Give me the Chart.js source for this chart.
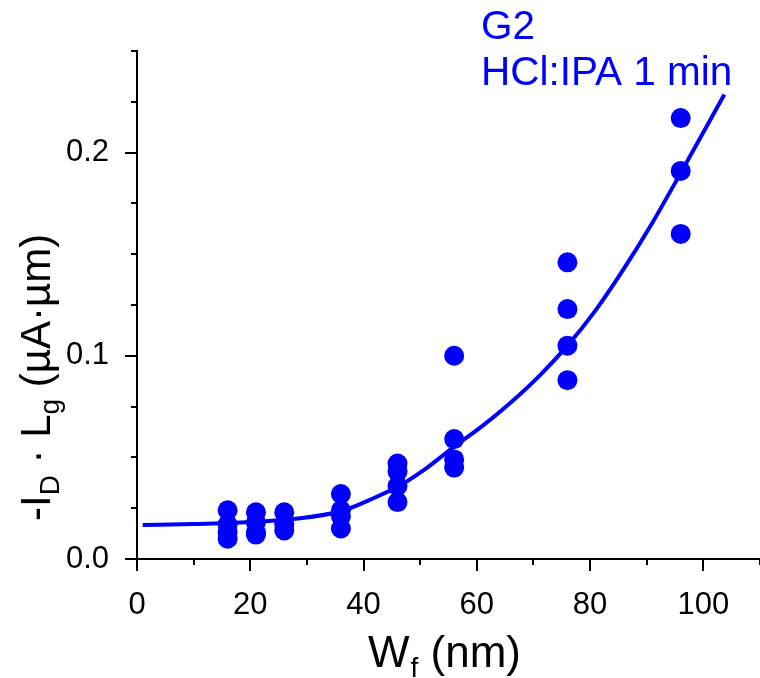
<!DOCTYPE html>
<html>
<head>
<meta charset="utf-8">
<script src="https://cdn.jsdelivr.net/npm/chart.js@4"></script>
<style>
  html, body { margin: 0; padding: 0; background: #fff; overflow: hidden; }
  canvas { display: block; }
</style>
</head>
<body>
<canvas id="fitChart" width="760" height="678"></canvas>
<script>
// measured points, W_f (nm) vs -I_D*L_g (uA*um)
const wf = [16, 16, 16, 16, 21, 21, 21, 21, 26, 26, 26, 36, 36, 36, 36,
            46, 46, 46, 46, 56, 56, 56, 56, 76, 76, 76, 76, 96, 96, 96];
const idLg = [0.024, 0.017, 0.013, 0.010, 0.023, 0.018, 0.013, 0.012, 0.023, 0.017, 0.014,
              0.032, 0.024, 0.021, 0.015, 0.047, 0.043, 0.036, 0.028,
              0.100, 0.059, 0.049, 0.045, 0.146, 0.123, 0.105, 0.088,
              0.217, 0.191, 0.160];

// fitted curve
const fitX = [1, 10, 20, 28, 36, 41, 46, 51, 56, 61, 66, 71, 76, 81, 86, 91, 96, 103.7];
const fitY = [0.0167, 0.0172, 0.0182, 0.0198, 0.0235, 0.0290, 0.0355, 0.0445, 0.0553, 0.0655,
              0.0770, 0.0900, 0.1050, 0.1225, 0.1430, 0.1655, 0.1900, 0.2286];

const xTicksLabelled = [0, 20, 40, 60, 80, 100];
const yTicksLabelled = [0.0, 0.1, 0.2];

const blue = '#0000ff';
const fontFam = '"Liberation Sans", Arial, sans-serif';

const ctx = document.getElementById('fitChart').getContext('2d');

const axisDecor = {
    id: 'axisDecor',
    afterDraw(chart) {
        const c = chart.ctx;
        const xs = chart.scales.x, ys = chart.scales.y;
        const area = chart.chartArea;
        c.save();
        c.strokeStyle = '#000';
        c.lineWidth = 2;
        // tick marks, outward
        xs.ticks.forEach(t => {
            const px = Math.round(xs.getPixelForValue(t.value));
            const len = xTicksLabelled.includes(t.value) ? 12 : 6;
            c.beginPath();
            c.moveTo(px, area.bottom);
            c.lineTo(px, area.bottom + len);
            c.stroke();
        });
        ys.ticks.forEach(t => {
            const py = Math.round(ys.getPixelForValue(t.value));
            const major = yTicksLabelled.some(v => Math.abs(v - t.value) < 1e-6);
            const len = major ? 12 : 6;
            c.beginPath();
            c.moveTo(area.left - len, py);
            c.lineTo(area.left, py);
            c.stroke();
        });

        c.fillStyle = '#000';
        c.textBaseline = 'alphabetic';
        // x title: W_f (nm)
        let x = 368, y = 667;
        c.font = '44px ' + fontFam;
        c.fillText('W', x, y);
        x += c.measureText('W').width + 1;
        c.font = '28px ' + fontFam;
        c.fillText('f', x, y + 10);
        x += c.measureText('f').width;
        c.font = '44px ' + fontFam;
        c.fillText(' (nm)', x, y);

        // y title: -I_D · L_g (uA·um)
        c.translate(50, 521);
        c.rotate(-Math.PI / 2);
        x = 0;
        const big = '42px ' + fontFam, small = '28px ' + fontFam;
        const parts = [['-I', big, 0], ['D', small, 9], [' \u00b7 L', big, 0], ['g', small, 9], [' (\u00b5A\u00b7\u00b5m)', big, 0]];
        parts.forEach(p => {
            c.font = p[1];
            c.fillText(p[0], x, p[2]);
            x += c.measureText(p[0]).width;
        });
        c.restore();

        // annotation
        c.save();
        c.fillStyle = blue;
        c.font = '40.5px ' + fontFam;
        c.fillText('G2', 481, 39);
        c.fillText('HCl:IPA 1 min', 481, 85);
        c.restore();
    }
};

new Chart(ctx, {
    type: 'scatter',
    data: {
        datasets: [
            {
                label: 'fit',
                data: fitX.map((v, i) => ({x: v, y: fitY[i]})),
                showLine: true,
                borderColor: blue,
                borderWidth: 4,
                pointRadius: 0,
                cubicInterpolationMode: 'monotone',
                order: 2
            },
            {
                label: 'G2',
                data: wf.map((v, i) => ({x: v, y: idLg[i]})),
                backgroundColor: blue,
                borderWidth: 0,
                pointRadius: 10,
                order: 1
            }
        ]
    },
    options: {
        responsive: false,
        animation: false,
        layout: { autoPadding: false, padding: { top: 51, right: 0, left: 0, bottom: 0 } },
        plugins: {
            legend: { display: false },
            tooltip: { enabled: false }
        },
        scales: {
            x: {
                type: 'linear',
                min: 0,
                max: 110,
                grid: { display: false },
                border: { display: true, color: '#000', width: 2 },
                ticks: {
                    stepSize: 10,
                    autoSkip: false,
                    maxRotation: 0,
                    padding: 20,
                    color: '#000',
                    font: { family: fontFam, size: 31 },
                    callback: v => xTicksLabelled.includes(v) ? String(v) : ''
                },
                afterFit: s => { s.height = 119; s.paddingLeft = 0; s.paddingRight = 0; }
            },
            y: {
                type: 'linear',
                min: 0,
                max: 0.25,
                grid: { display: false },
                border: { display: true, color: '#000', width: 2 },
                ticks: {
                    stepSize: 0.025,
                    autoSkip: false,
                    padding: 20,
                    color: '#000',
                    font: { family: fontFam, size: 31 },
                    callback: v => yTicksLabelled.some(t => Math.abs(t - v) < 1e-6) ? v.toFixed(1) : ''
                },
                afterFit: s => { s.width = 137; s.paddingTop = 0; s.paddingBottom = 0; }
            }
        }
    },
    plugins: [axisDecor]
});
</script>
</body>
</html>
